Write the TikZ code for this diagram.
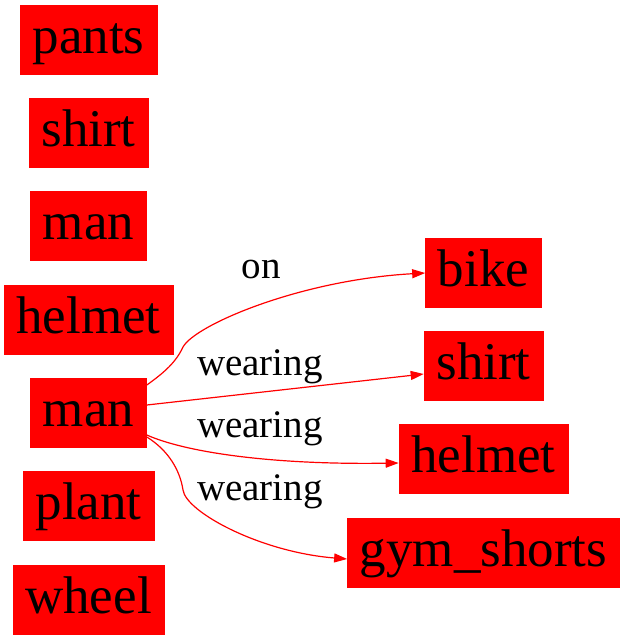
\documentclass[tikz,border=0pt]{standalone}
\usepackage{fontspec}
\setmainfont{Liberation Serif}
\usetikzlibrary{arrows.meta,calc}
\begin{document}
\begin{tikzpicture}[x=1pt,y=-1pt,
  box/.style={fill=red,draw=red,inner xsep=12.5pt,inner ysep=8pt,text height=40pt,text depth=13pt,
    minimum height=69pt,font=\fontsize{53}{60}\selectfont},
  lbl/.style={anchor=base,inner sep=0pt,font=\fontsize{39}{44}\selectfont},
  rel/.style={draw=red,line width=1.2pt,-{Triangle[length=13pt,width=9pt]}}]
\useasboundingbox (0,0) rectangle (624,640);
\node[box] (pants) at (88.5,39.5) {pants};
\node[box] (shirt1) at (88.5,132.5) {shirt};
\node[box] (man1) at (88.5,225.5) {man};
\node[box] (helmet1) at (88.5,319.5) {helmet};
\node[box] (man2) at (88.5,412.5) {man};
\node[box] (plant) at (88.5,505.5) {plant};
\node[box] (wheel) at (88.5,599.5) {wheel};
\node[box] (bike) at (483.5,273) {bike};
\node[box] (shirt2) at (483.5,366) {shirt};
\node[box] (helmet2) at (483.5,459) {helmet};
\node[box] (gym) at (483.5,553) {gym\_shorts};
\node[lbl] (lon) at (261,278) {on};
\node[lbl] (lw1) at (260,375) {wearing};
\node[lbl] (lw2) at (260,437) {wearing};
\node[lbl] (lw3) at (260,500) {wearing};
\draw[rel] ([yshift=27.5pt]man2.east) .. controls (165,372) and (176,362) .. (183,347)
   .. controls (195,325) and (300,280) .. (bike.west);
\draw[rel] ([yshift=7.5pt]man2.east) -- ([yshift=-8pt]shirt2.west);
\draw[rel] ([yshift=-22.5pt]man2.east) .. controls (185,452) and (270,465) .. ([yshift=-4pt]helmet2.west);
\draw[rel] ([yshift=-24.5pt]man2.east) .. controls (168,450) and (180,470) .. (183,490)
   .. controls (186,512) and (260,552) .. ([yshift=-6pt]gym.west);
\end{tikzpicture}
\end{document}
